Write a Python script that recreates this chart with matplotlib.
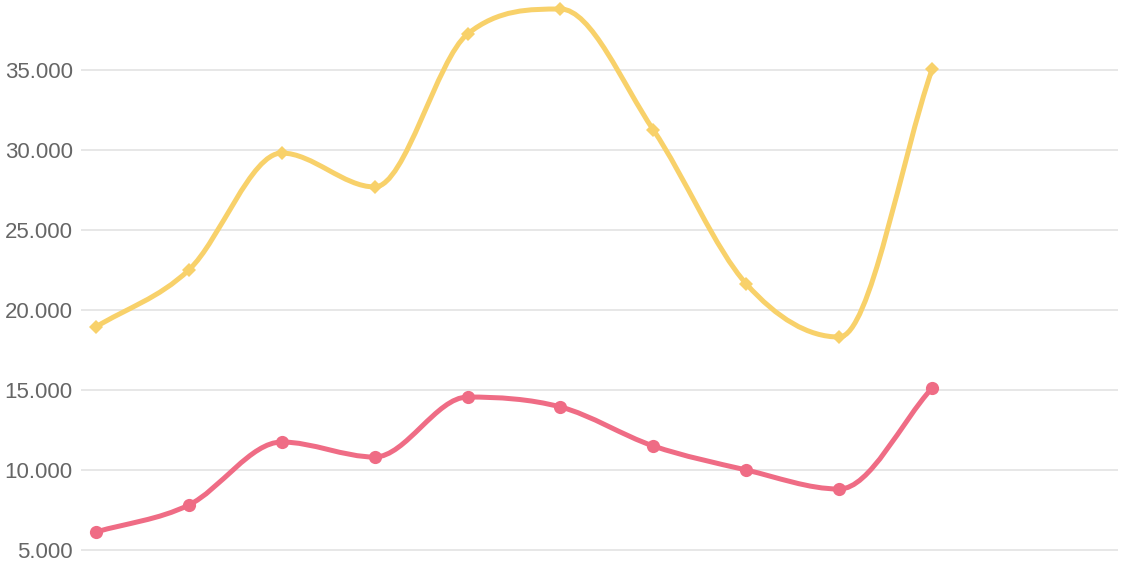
import numpy as np
import matplotlib
matplotlib.use('Agg')
import matplotlib.pyplot as plt
from matplotlib.path import Path
from matplotlib.patches import PathPatch
from matplotlib.ticker import FuncFormatter

plt.rcParams['font.family'] = ['Liberation Sans', 'DejaVu Sans']

# data
months = list(range(10))
yellow_vals = [18940, 22500, 29810, 27690, 37250, 38810, 31250, 21630, 18310, 35060]
pink_vals = [6125, 7810, 11750, 10810, 14560, 13940, 11500, 10000, 8810, 15125]
y_ticks = [5000, 10000, 15000, 20000, 25000, 30000, 35000]

fig = plt.figure(figsize=(11.4, 5.7), dpi=100)
ax = fig.add_axes([81 / 1140, 0, (1118 - 81) / 1140, 1])
ax.set_xlim(-0.16, 11.0)
ax.set_ylim(3750, 39375)


def monotone_path(xs, ys):
    # monotone cubic (Fritsch-Carlson), like chart.js cubicInterpolationMode 'monotone'
    x = np.asarray(xs, float)
    y = np.asarray(ys, float)
    n = len(x)
    delta = np.diff(y) / np.diff(x)
    m = np.zeros(n)
    m[0] = delta[0]
    m[-1] = delta[-1]
    for i in range(1, n - 1):
        if np.sign(delta[i - 1]) != np.sign(delta[i]) or delta[i - 1] == 0:
            m[i] = 0
        else:
            m[i] = (delta[i - 1] + delta[i]) / 2
    for i in range(n - 1):
        if delta[i] == 0:
            m[i] = m[i + 1] = 0
            continue
        a = m[i] / delta[i]
        b = m[i + 1] / delta[i]
        s = a * a + b * b
        if s > 9:
            t = 3 / np.sqrt(s)
            m[i] = t * a * delta[i]
            m[i + 1] = t * b * delta[i]
    verts = [(x[0], y[0])]
    codes = [Path.MOVETO]
    for i in range(n - 1):
        dx = (x[i + 1] - x[i]) / 3
        verts += [(x[i] + dx, y[i] + m[i] * dx),
                  (x[i + 1] - dx, y[i + 1] - m[i + 1] * dx),
                  (x[i + 1], y[i + 1])]
        codes += [Path.CURVE4] * 3
    return Path(verts, codes)


yellow = '#f8d16a'
pink = '#ef6c85'

for vals, col, mk, ms in [(yellow_vals, yellow, 'D', 7.5), (pink_vals, pink, 'o', 9.5)]:
    ax.add_patch(PathPatch(monotone_path(months, vals), fill=False, edgecolor=col,
                           lw=3.6, capstyle='round', joinstyle='round', zorder=3))
    ax.plot(months, vals, linestyle='none', marker=mk, markersize=ms,
            color=col, markeredgewidth=0, zorder=4)

ax.set_yticks(y_ticks)
ax.yaxis.set_major_formatter(FuncFormatter(lambda v, p: f'{int(v):,}'.replace(',', '.')))
ax.grid(axis='y', color='#e5e5e5', linewidth=1.3)
ax.set_axisbelow(True)
ax.set_xticks([])
ax.tick_params(axis='y', length=0, pad=6, labelsize=16, labelcolor='#666666')
for s in ax.spines.values():
    s.set_visible(False)

fig.savefig('out.png', dpi=100)
